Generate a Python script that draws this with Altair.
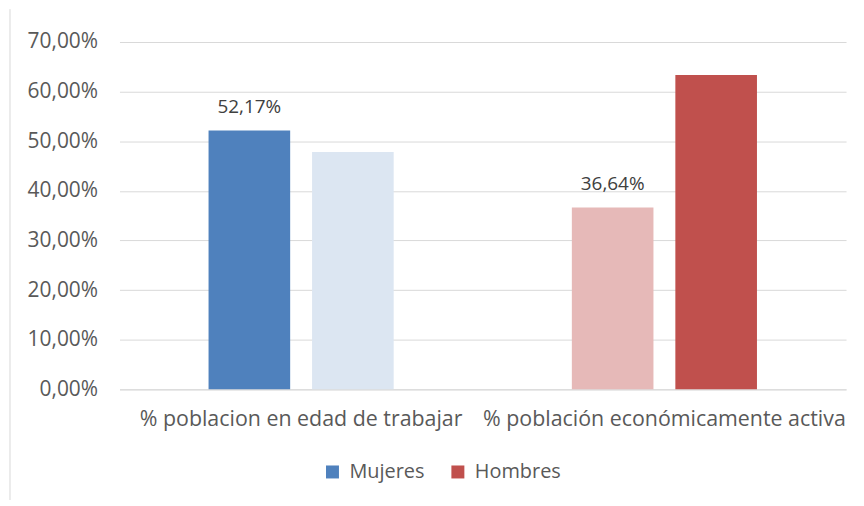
import altair as alt
import pandas as pd

categorias = ["% poblacion en edad de trabajar", "% población económicamente activa"]
sexos = ["Mujeres", "Hombres"]
mujeres = [52.17, 36.64]
hombres = [47.83, 63.36]
colores_mujeres = ["#4f81bd", "#e6b9b8"]
colores_hombres = ["#dce6f2", "#c0504d"]
colores_leyenda = ["#4f81bd", "#c0504d"]
ticks_y = [0, 10, 20, 30, 40, 50, 60, 70]

rows = []
for i, c in enumerate(categorias):
    rows.append({"categoria": c, "sexo": "Mujeres", "valor": mujeres[i], "color": colores_mujeres[i]})
    rows.append({"categoria": c, "sexo": "Hombres", "valor": hombres[i], "color": colores_hombres[i]})
df = pd.DataFrame(rows)
df["etiqueta"] = df["valor"].map(lambda v: f"{v:.2f}".replace(".", ",") + "%")

FONT = "Open Sans"

x = alt.X("categoria:N", sort=categorias,
          scale=alt.Scale(paddingInner=0, paddingOuter=0),
          axis=alt.Axis(title=None, labelAngle=0, labelFontSize=21.5, labelColor="#595959",
                        labelPadding=19, domainColor="#d9d9d9", ticks=False, labelFont=FONT,
                        labelLimit=0))
xo = alt.XOffset("sexo:N", sort=sexos,
                 scale=alt.Scale(paddingInner=0.2115, paddingOuter=0.8606))
y = alt.Y("valor:Q", scale=alt.Scale(domain=[0, 70], nice=False),
          axis=alt.Axis(title=None, values=ticks_y, domain=False, ticks=False,
                        gridColor="#d9d9d9", labelPadding=22, labelFontSize=21,
                        labelColor="#595959", labelFont=FONT, labelLimit=0,
                        labelExpr="replace(format(datum.value, '.2f'), '.', ',') + '%'"))

base = alt.Chart(df)

bars = base.mark_bar().encode(x=x, xOffset=xo, y=y, fill=alt.Fill("color:N", scale=None))

text = base.transform_filter(alt.datum.sexo == "Mujeres").mark_text(
    baseline="alphabetic", dy=-18, fontSize=19, color="#404040", font=FONT
).encode(x=x, xOffset=xo, y=y, text="etiqueta:N")

legend_layer = base.mark_square(opacity=0).encode(
    x=x, xOffset=xo, y=y,
    color=alt.Color("sexo:N", sort=sexos,
                    scale=alt.Scale(domain=sexos, range=colores_leyenda),
                    legend=alt.Legend(title=None, orient="none", legendX=204, legendY=422,
                                      direction="horizontal", symbolType="square",
                                      symbolOpacity=1, symbolSize=170, symbolStrokeWidth=0,
                                      labelFontSize=20, labelColor="#595959", labelFont=FONT,
                                      columnPadding=23, labelOffset=7, labelLimit=0))
)

border = alt.Chart(pd.DataFrame({"a": [0]})).mark_rule(color="#d9d9d9", strokeWidth=1).encode(
    x=alt.value(-110), y=alt.value(-33), y2=alt.value(466)
)

chart = alt.layer(border, bars, text, legend_layer).properties(
    width=730, height=349,
    autosize=alt.AutoSizeParams(type="none"),
    padding={"left": 112, "top": 33, "right": 10, "bottom": 110},
).configure_view(stroke=None)

chart.save("out.html", embed_options={"renderer": "svg", "actions": False})
